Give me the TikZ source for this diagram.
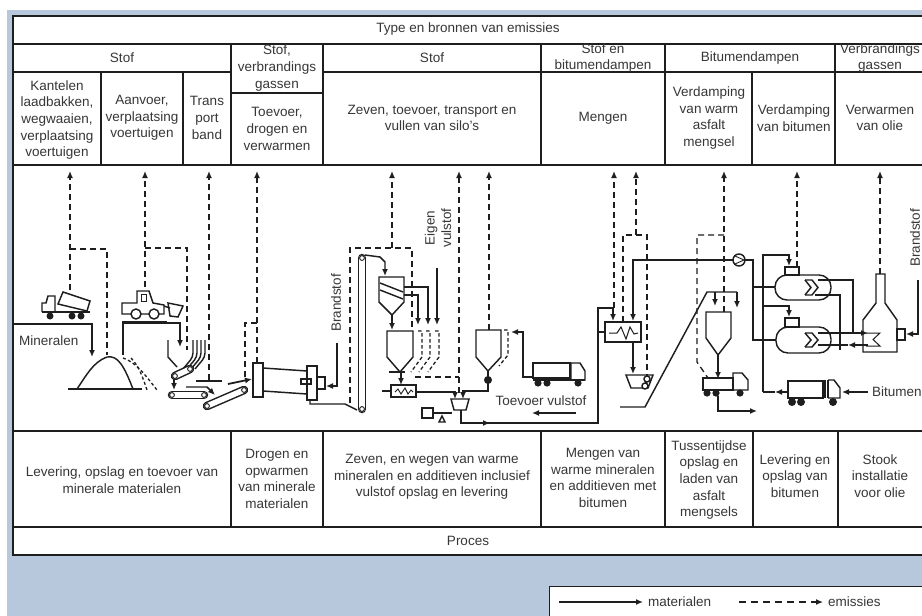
\documentclass[tikz,border=0pt]{standalone}
\usepackage{fontspec}
\setmainfont{Liberation Sans}
\usetikzlibrary{arrows.meta}
\definecolor{bgblue}{RGB}{183,200,221}
\definecolor{ink}{RGB}{30,30,30}
\definecolor{txtc}{RGB}{55,55,55}
\newcommand{\mybelt}[2]{%
 \draw[ink,line width=8.5pt,line cap=round] #1 -- #2;
 \draw[white,line width=5.5pt,line cap=round] #1 -- #2;
 \draw[ink,line width=0.9pt] #1 circle[radius=2.4pt] #2 circle[radius=2.4pt];}
\begin{document}
\begin{tikzpicture}[x=1pt,y=-1pt,
  tl/.style={draw=ink,line width=1.1pt},
  ml/.style={draw=ink,line width=1.45pt},
  em/.style={draw=ink,line width=1.3pt,dash pattern=on 6pt off 4pt},
  arr/.style={-{Latex[length=7pt,width=6pt]}},
  txt/.style={font=\fontsize{13.5}{16.6}\selectfont,align=center,text=txtc,inner sep=0pt},
  rtxt/.style={txt,rotate=90},
  whl/.style={fill=ink},
]
\useasboundingbox (0,0) rectangle (922,616);
% background
\fill[white] (0,0) rectangle (922,616);
\fill[bgblue] (7,10) rectangle (922,616);
\fill[white] (13,16) rectangle (922,555);
\draw[tl] (922,16) -- (13,16) -- (13,555) -- (922,555);
% table lines
\draw[tl] (13,44) -- (922,44);
\draw[tl] (13,72) -- (231,72) (323,72) -- (922,72);
\draw[tl] (231,93) -- (323,93);
\draw[tl] (13,165) -- (922,165);
\draw[tl] (13,431) -- (922,431);
\draw[tl] (13,527) -- (922,527);
\draw[tl] (101,72) -- (101,165) (183,72) -- (183,165) (231,44) -- (231,165)
  (323,44) -- (323,165) (541,44) -- (541,165) (665,44) -- (665,165)
  (752,72) -- (752,165) (835,44) -- (835,165);
\draw[tl] (231,431) -- (231,527) (323,431) -- (323,527) (541,431) -- (541,527)
  (665,431) -- (665,527) (753,431) -- (753,527) (838,431) -- (838,527);
% header texts
\node[txt] (h0) at (468,29) {Type en bronnen van emissies};
\node[txt] (h1) at (122,58) {Stof};
\node[txt] (h2) at (277,68) {Stof,\\verbrandings\\gassen};
\node[txt] (h3) at (432,58) {Stof};
\node[txt] (h4) at (603,58) {Stof en\\bitumendampen};
\node[txt] (h5) at (750,58) {Bitumendampen};
\node[txt] (h6) at (880,58) {Verbrandings\\gassen};
\node[txt] (s1) at (57,120) {Kantelen\\laadbakken,\\wegwaaien,\\verplaatsing\\voertuigen};
\node[txt] (s2) at (142,118) {Aanvoer,\\verplaatsing\\voertuigen};
\node[txt] (s3) at (207,118) {Trans\\port\\band};
\node[txt] (s4) at (277,129) {Toevoer,\\drogen en\\verwarmen};
\node[txt] (s5) at (432,118) {Zeven, toevoer, transport en\\vullen van silo's};
\node[txt] (s6) at (603,118) {Mengen};
\node[txt] (s7) at (709,118) {Verdamping\\van warm\\asfalt\\mengsel};
\node[txt] (s8) at (794,118) {Verdamping\\van bitumen};
\node[txt] (s9) at (880,118) {Verwarmen\\van olie};
% bottom texts
\node[txt] (p1) at (122,480) {Levering, opslag en toevoer van\\minerale materialen};
\node[txt] (p2) at (277,479) {Drogen en\\opwarmen\\van minerale\\materialen};
\node[txt] (p3) at (432,477) {Zeven, en wegen van warme\\mineralen en additieven inclusief\\vulstof opslag en levering};
\node[txt] (p4) at (603,478) {Mengen van\\warme mineralen\\en additieven met\\bitumen};
\node[txt] (p5) at (709,480) {Tussentijdse\\opslag en\\laden van\\asfalt\\mengsels};
\node[txt] (p6) at (795,476) {Levering en\\opslag van\\bitumen};
\node[txt] (p7) at (880,476) {Stook\\installatie\\voor olie};
\node[txt] (pr) at (468,541) {Proces};
% legend
\draw[draw=ink,fill=white,line width=0.9pt] (549,586) rectangle (930,630);
\coordinate (la) at (559,602); \coordinate (lb) at (643,602);
\coordinate (lc) at (739,602); \coordinate (ld) at (823,602);
\draw[ml,arr] (la) -- (lb);
\node[txt,anchor=west] (lt1) at (648,602) {materialen};
\draw[em,dash pattern=on 7pt off 5pt,arr] (lc) -- (ld);
\node[txt,anchor=west] (lt2) at (828,602) {emissies};

% ---------------- emissions (dashed) ----------------
\draw[em,arr] (70,290) -- (70,171);
\draw[em] (70,249) -- (107,249) -- (107,355);
\draw[em,arr] (145,287) -- (145,171);
\draw[em] (145,248) -- (187,248) -- (187,350);
\draw[em,arr] (209,380) -- (209,171);
\draw[em,arr] (257,363) -- (257,171);
\draw[em] (257,323) -- (245,323) -- (245,377);
\draw[em,arr] (392,248) -- (392,171);
\draw[em] (350,403) -- (350,248) -- (412,248) -- (412,328);
\draw[em,arr] (459,393) -- (459,171);
\draw[em] (415,377) -- (459,377);
\draw[em,arr] (489,330) -- (489,171);
\draw[em,arr] (614,308) -- (614,171);
\draw[em,arr] (636,235) -- (636,171);
\draw[em] (623,322) -- (623,235) -- (647,235) -- (647,376);
\draw[em,arr] (724,312) -- (724,171);
\draw[em] (724,235) -- (697,235) -- (697,362) -- (708,378);
\draw[em,arr] (797,267) -- (797,171);
\draw[em,arr] (880,274) -- (880,171);
% small dashed bins / filler
\foreach \xx in {422,430,439} {\draw[em,dash pattern=on 3.5pt off 2.5pt] (\xx-4,331) -- (\xx,331) -- (\xx,357) -- (\xx-11,372);}
\draw[em,dash pattern=on 3.5pt off 2.5pt] (504,330) -- (508,330) -- (508,355) -- (499,366);

% ---------------- left: minerals ----------------
\node[txt,anchor=west] (mn) at (19,341) {Mineralen};
\draw[ml,arr] (13,324) -- (92,324) -- (92,357);
% dump truck
\draw[ml] (42,312) -- (42,303) -- (46,303) -- (48,296) -- (55,296) -- (55,312);
\draw[ml] (42,312) -- (90,312);
\draw[ml] (58,304) -- (63,292) -- (90,301) -- (87,311) -- cycle;
\fill[whl] (50,316) circle[radius=3.5pt] (72,316) circle[radius=3.5pt] (81,316) circle[radius=3.5pt];
% pile
\draw[ml] (68,389) -- (142,389);
\draw[ml] (77,389) .. controls (86,376) and (93,362) .. (107,357) .. controls (118,355) and (124,366) .. (133,389);
\draw[em,dash pattern=on 3pt off 2.5pt] (123,358) .. controls (136,362) and (146,376) .. (157,390);
\draw[em,dash pattern=on 3pt off 2.5pt] (131,358) .. controls (139,366) and (143,378) .. (147,390);
% loader
\draw[ml] (122,314) -- (122,303) -- (137,303) -- (137,291) -- (149,291) -- (153,303) -- (164,305) -- (164,314) -- cycle;
\draw[ink,line width=0.9pt] (141,294) rectangle (146,301);
\draw[ml] (164,306) -- (170,308);
\draw[ml] (168,303) -- (183,306) -- (178,317) -- (170,316) -- cycle;
\draw[ml,fill=white] (136,314) circle[radius=5pt] (154,314) circle[radius=5pt];
\draw[ml] (122,322) -- (167,322);
\draw[ml,arr] (123,355) -- (123,323) -- (180,323) -- (180,347);
% feed hopper and chutes
\draw[ml] (168,340) -- (168,357) -- (177,367);
\foreach \i in {0,1,2,3} {\draw[ml,rounded corners=4pt] (193+4*\i,340) -- (193+4*\i,357) -- (183+4*\i,369);}
\mybelt{(175,376)}{(190,369)}
\draw[ml,arr] (174,379) -- (174,390);
\mybelt{(172,395)}{(204,395)}
\draw[ml] (196,381) -- (222,381);
\draw[ml,arr] (186,387) -- (207,387) -- (215,395);
\mybelt{(207,406)}{(244,390)}
\draw[ml,line width=1.8pt,arr] (228,384) -- (252,379);

% ---------------- dryer ----------------
\draw[ml] (253,363) rectangle (263,397);
\draw[ml] (263,368) -- (307,371) (263,391) -- (307,394);
\draw[ml] (307,366) rectangle (317,400);
\draw[ml] (301,379) rectangle (311,384);
\draw[ml] (317,377) rectangle (325,389);
\node[rtxt] (bs1) at (336,303) {Brandstof};
\draw[ml,arr] (337,343) -- (337,386) -- (326,386);
\draw[ml] (310,400) -- (310,404) -- (345,404) -- (357,410);
% elevator
\mybelt{(362,258)}{(362,409)}
\draw[ml,arr] (365,255) -- (380,257) -- (385,262) -- (385,276);
% screen
\draw[ml] (379,277) -- (404,277) -- (404,302) -- (392,315) -- (379,302) -- cycle;
\draw[ml] (380,283) -- (403,292) (380,290) -- (403,299);
\draw[ml,arr] (392,315) -- (392,330);
\draw[ml,arr] (404,287) -- (428,287) -- (428,325);
\draw[ml,arr] (404,295) -- (418,295) -- (418,325);
\draw[ml,arr] (437,268) -- (437,325);
\node[rtxt] (ev) at (438,228) {Eigen\\vulstof};
% hot bin
\draw[ml] (387,331) -- (413,331) -- (413,357) -- (400,372) -- (387,357) -- cycle;
\draw[ml,line width=1.8pt] (389,372) -- (405,372);
\draw[ml,arr] (401,372) -- (401,385);
% weigh box
\draw[ml] (391,385) rectangle (416,397);
\draw[ink,line width=0.9pt] (395,392) -- (398,389) -- (401,394) -- (405,388) -- (408,394) -- (411,390) -- (413,392);
\draw[ml] (382,391) -- (391,391);
\draw[ml,arr] (416,392) -- (455,392) -- (455,399);
% mixer / scale
\draw[ml] (451,399) -- (469,399) -- (466,410) -- (454,410) -- cycle;
\draw[ml] (422,408) rectangle (433,418);
\draw[ml] (433,413) -- (452,413);
\draw[ml] (442,416) -- (439,422) -- (445,422) -- cycle;
% filler silo
\draw[ml] (476,330) -- (501,330) -- (501,357) -- (488,371) -- (476,357) -- cycle;
\fill[whl] (488,380) circle[radius=4pt];
\draw[ml] (488,371) -- (488,377);
\draw[ml,arr] (488,383) -- (488,391) -- (463,391) -- (463,399);
% filler truck
\draw[ml] (533,363) rectangle (570,378);
\draw[ml] (571,380) -- (571,363) -- (580,363) -- (585,371) -- (585,380) -- cycle;
\draw[ml] (533,380) -- (585,380);
\fill[whl] (538,383) circle[radius=3.6pt] (547,383) circle[radius=3.6pt] (578,383) circle[radius=3.6pt];
\draw[ml,arr] (533,377) -- (523,377) -- (523,332) -- (511,332);
\node[txt] (tv) at (541,401) {Toevoer vulstof};
\draw[ml,arr] (576,413) -- (532,413);
% hot minerals to mixer
\draw[ml,arr] (461,410) -- (461,423) -- (598,423) -- (598,308) -- (613,308) -- (613,321);
\draw[ml,arr] (470,423) -- (490,423);

% ---------------- mixing ----------------
\draw[ml] (605,322) rectangle (641,342);
\draw[ink,line width=1pt] (609,333) -- (617,333) -- (621,327) -- (626,339) -- (630,327) -- (634,334) -- (638,333);
\draw[ml] (599,332) -- (605,332);
\draw[ml,arr] (733,260) -- (633,260) -- (633,321);
\draw[ml] (739,260) circle[radius=6pt];
\draw[ink,line width=0.9pt] (735,256) -- (744,260) -- (735,264);
\draw[ml,arr] (633,342) -- (633,374);
\draw[ml] (626,375) -- (653,375) -- (648,388) -- (631,388) -- cycle;
\draw[ml,fill=white] (647,379) circle[radius=3pt] (645,386) circle[radius=3pt];
% skip
\draw[ml] (620,407) -- (645,407) -- (707,292) -- (737,292);
\draw[ml,arr] (715,292) -- (715,306);
\draw[ml,arr] (737,292) -- (737,308);
% asphalt silo
\draw[ml] (706,312) -- (731,312) -- (731,338) -- (718,355) -- (706,338) -- cycle;
\draw[ml,arr] (718,355) -- (718,379);
% asphalt truck
\draw[ml] (703,378) rectangle (733,390);
\draw[ml] (733,390) -- (733,373) -- (742,373) -- (748,380) -- (748,390) -- cycle;
\fill[whl] (707,393) circle[radius=3.6pt] (716,393) circle[radius=3.6pt] (740,393) circle[radius=3.6pt];
\draw[ml,arr] (718,396) -- (718,411) -- (757,411);

% ---------------- bitumen storage ----------------
\draw[ml] (745,260) -- (753,260) -- (753,340) -- (776,340);
\draw[ml] (753,287) -- (775,287);
\draw[ml,arr] (763,392) -- (763,255) -- (789,255) -- (789,266);
\draw[ml,arr] (763,306) -- (789,306) -- (789,317);
\draw[ml,arr] (788,392) -- (775,392);
\draw[ml] (775,392) -- (763,392);
% tanks
\draw[ml,rounded corners=12pt] (775,275) rectangle (831,300);
\draw[ml] (785,267) rectangle (799,275);
\draw[ml] (805,280) -- (812,280) -- (818,287.5) -- (812,295) -- (805,295);
\draw[ml] (805,280) -- (811,287.5) -- (805,295);
\draw[ml,rounded corners=12pt] (776,327) rectangle (831,353);
\draw[ml] (785,318) rectangle (799,327);
\draw[ml] (805,333) -- (812,333) -- (818,340) -- (812,347) -- (805,347);
\draw[ml] (805,333) -- (811,340) -- (805,347);
% heating oil lines
\draw[ml,arr] (818,280) -- (853,280) -- (853,333) -- (868,333);
\draw[ml] (815,295) -- (840,295) -- (840,350);
\draw[ml] (818,333) -- (853,333);
\draw[ml,arr] (868,345) -- (848,345);
\draw[ml] (848,345) -- (818,345);
% furnace
\draw[ml] (876,274) -- (885,274) -- (885,303) -- (897,320) -- (897,352) -- (863,352) -- (863,320) -- (876,303) -- cycle;
\draw[ink,line width=1pt] (866,333) -- (880,333) -- (873,339.5) -- (880,346) -- (866,346);
\draw[ml] (897,329) rectangle (905,340);
\node[rtxt] (bs2) at (915,238) {Brandstof};
\draw[ml,arr] (918,280) -- (918,334) -- (906,334);
% bitumen truck
\draw[ml] (788,381) rectangle (823,398);
\draw[ml] (825,380) -- (825,398) (828,380) -- (828,398);
\draw[ml] (828,380) -- (834,380) -- (840,388) -- (840,398) -- (828,398);
\fill[whl] (792,402) circle[radius=4pt] (801,402) circle[radius=4pt] (833,402) circle[radius=4pt];
\node[txt,anchor=west] (bt) at (872,392) {Bitumen};
\draw[ml,arr] (868,392) -- (842,392);
\end{tikzpicture}
\end{document}
